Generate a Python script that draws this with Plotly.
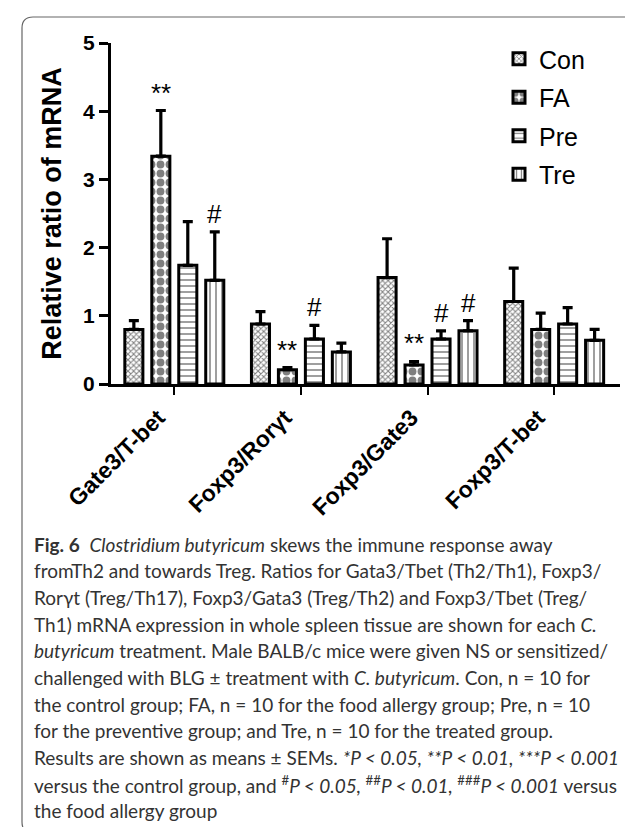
import plotly.graph_objects as go

categories = ["Gate3/T-bet", "Foxp3/Rorγt", "Foxp3/Gate3", "Foxp3/T-bet"]
groups = ["Con", "FA", "Pre", "Tre"]
con = [0.80, 0.88, 1.56, 1.21]
con_err = [0.13, 0.18, 0.57, 0.49]
fa = [3.34, 0.21, 0.28, 0.80]
fa_err = [0.67, 0.03, 0.05, 0.24]
pre = [1.74, 0.66, 0.66, 0.88]
pre_err = [0.64, 0.20, 0.12, 0.24]
tre = [1.52, 0.47, 0.78, 0.64]
tre_err = [0.71, 0.13, 0.15, 0.16]
sig_con = ["", "", "", ""]
sig_fa = ["**", "**", "**", ""]
sig_pre = ["", "#", "#", ""]
sig_tre = ["#", "", "#", ""]
y_ticks = [0, 1, 2, 3, 4, 5]

values = [con, fa, pre, tre]
errors = [con_err, fa_err, pre_err, tre_err]
sigs = [sig_con, sig_fa, sig_pre, sig_tre]
patterns = [
    dict(shape="x", size=4, solidity=0.45, fgcolor="black", bgcolor="white"),
    dict(shape=".", size=9, solidity=0.6, fgcolor="black", bgcolor="white"),
    dict(shape="-", size=6, solidity=0.25, fgcolor="black", bgcolor="white"),
    dict(shape="|", size=6, solidity=0.25, fgcolor="black", bgcolor="white"),
]

W, H = 633, 827
ML, MR, MT, MB = 103, 21, 35, 451
PW, PH = W - ML - MR, H - MT - MB


def pxx(p):
    return (p - ML) / PW


def pxy(p):
    return (H - MB - p) / PH


BARGAP = 0.148
slot = (1 - BARGAP) / len(groups)

fig = go.Figure()
for k, g in enumerate(groups):
    fig.add_trace(go.Bar(
        name=g, x=categories, y=values[k],
        marker=dict(color="white", line=dict(color="black", width=3), pattern=patterns[k]),
        error_y=dict(type="data", array=errors[k], arrayminus=[0] * 4, symmetric=False,
                     color="black", thickness=3.2, width=5),
        legendgroup=g,
    ))

ann = []
for k in range(len(groups)):
    for i, s in enumerate(sigs[k]):
        if s:
            ann.append(dict(x=i + (k - 1.5) * slot, y=values[k][i] + errors[k][i], xref="x", yref="y",
                            text=s, showarrow=False, yanchor="bottom", yshift=1,
                            font=dict(family="Arial", size=26, color="black")))

caption = [
    "<b>Fig. 6</b>  <i>Clostridium butyricum</i> skews the immune response away",
    "fromTh2 and towards Treg. Ratios for Gata3/Tbet (Th2/Th1), Foxp3/",
    "Rorγt (Treg/Th17), Foxp3/Gata3 (Treg/Th2) and Foxp3/Tbet (Treg/",
    "Th1) mRNA expression in whole spleen tissue are shown for each <i>C.</i>",
    "<i>butyricum</i> treatment. Male BALB/c mice were given NS or sensitized/",
    "challenged with BLG ± treatment with <i>C. butyricum</i>. Con, n = 10 for",
    "the control group; FA, n = 10 for the food allergy group; Pre, n = 10",
    "for the preventive group; and Tre, n = 10 for the treated group.",
    "Results are shown as means ± SEMs. <i>*P &lt; 0.05, **P &lt; 0.01, ***P &lt; 0.001</i>",
    "versus the control group, and <sup>#</sup><i>P &lt; 0.05, </i><sup>##</sup><i>P &lt; 0.01, </i><sup>###</sup><i>P &lt; 0.001</i> versus",
    "the food allergy group",
]
for j, line in enumerate(caption):
    ann.append(dict(x=pxx(24), y=pxy(536 + 26.7 * j), xref="paper", yref="paper", text=line,
                    showarrow=False, xanchor="left", yanchor="middle",
                    font=dict(family="Lato", size=19, color="#333333")))

# frame
L, T, R, B, r = 14, 9, 632, 825, 11
frame = (f"M {pxx(L)},{pxy(T + r)} Q {pxx(L)},{pxy(T)} {pxx(L + r)},{pxy(T)} "
         f"L {pxx(R - r)},{pxy(T)} Q {pxx(R)},{pxy(T)} {pxx(R)},{pxy(T + r)} "
         f"L {pxx(R)},{pxy(B - r)} Q {pxx(R)},{pxy(B)} {pxx(R - r)},{pxy(B)} "
         f"L {pxx(L + r)},{pxy(B)} Q {pxx(L)},{pxy(B)} {pxx(L)},{pxy(B - r)} Z")

fig.update_layout(
    width=W, height=H, margin=dict(l=ML, r=MR, t=MT, b=MB, autoexpand=False),
    paper_bgcolor="white", plot_bgcolor="white",
    barmode="group", bargap=BARGAP, bargroupgap=0.33,
    showlegend=True,
    legend=dict(x=pxx(491), y=pxy(28), xanchor="left", yanchor="top", tracegroupgap=3,
                font=dict(family="Arial", size=25, color="black"), bgcolor="rgba(0,0,0,0)"),
    annotations=ann,
    shapes=[dict(type="path", path=frame, xref="paper", yref="paper",
                 line=dict(color="#666666", width=1.2), layer="below")],
    xaxis=dict(range=[-0.5, 3.52], showline=True, linecolor="black", linewidth=3,
               ticks="outside", ticklen=8, tickwidth=2, tickcolor="black", tickangle=-45,
               ticklabelshift=-16,
               tickfont=dict(family="Arial", size=23, color="black", weight="bold"),
               showgrid=False, zeroline=False),
    yaxis=dict(range=[0, 5], tickvals=y_ticks, showline=True, linecolor="black", linewidth=3,
               ticks="outside", ticklen=9, tickwidth=3, tickcolor="black",
               tickfont=dict(family="Arial", size=21, color="black", weight="bold"),
               title=dict(text="Relative ratio of mRNA", standoff=14,
                          font=dict(family="Arial", size=27, color="black", weight="bold")),
               showgrid=False, zeroline=False),
)
fig.write_html("out.html")
